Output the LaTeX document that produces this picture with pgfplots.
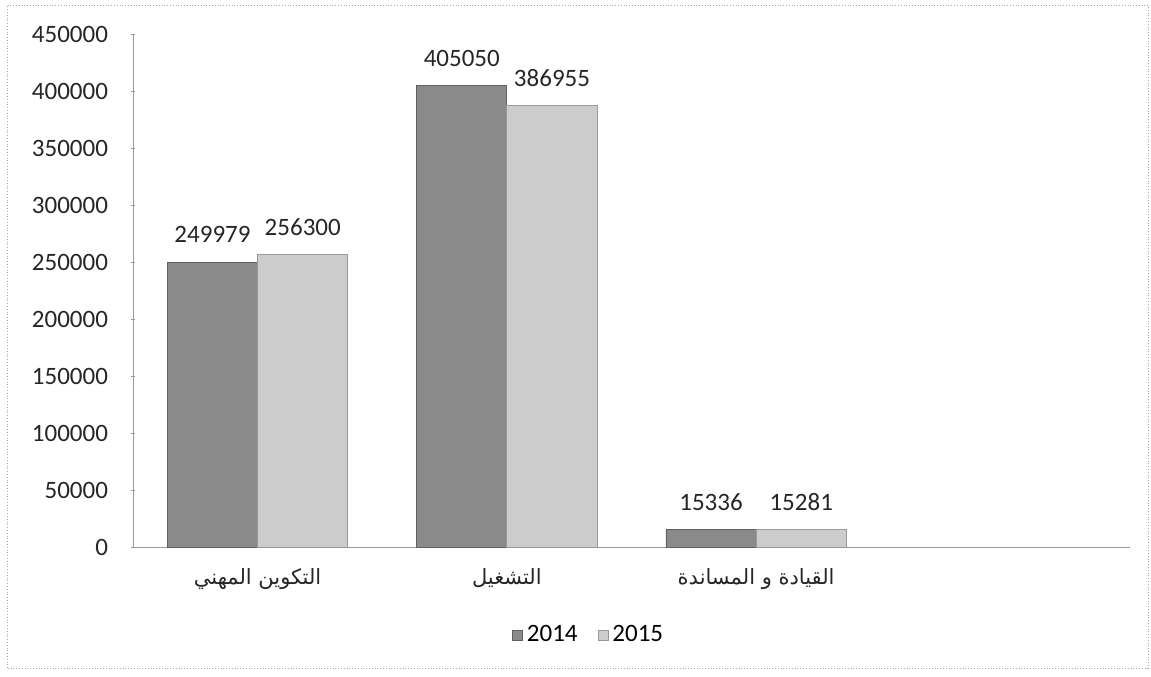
\documentclass[border=0pt]{standalone}
\usepackage{fontspec}
\setmainfont{Carlito}
\newfontfamily\arabicfont[Script=Arabic]{DejaVu Sans}
\usepackage{pgfplots}
\pgfplotsset{compat=1.18}
\TeXXeTstate=1
\definecolor{darkbar}{HTML}{8A8A8A}
\definecolor{lightbar}{HTML}{CCCCCC}
\definecolor{axgray}{HTML}{9A9A9A}
\begin{document}
\begin{tikzpicture}
\useasboundingbox (0,0) rectangle (575.5pt,338pt);
\draw[densely dotted, gray!70] (3.5pt,4pt) rectangle (574pt,335.5pt);
\begin{axis}[
  at={(66.5pt,64.5pt)}, anchor=south west,
  scale only axis, width=498.5pt, height=256.5pt,
  xmin=0, xmax=4, ymin=0, ymax=450000,
  axis x line=bottom, axis y line=left,
  axis line style={axgray, -},
  ytick={0,50000,...,450000},
  scaled y ticks=false,
  yticklabel style={/pgf/number format/fixed, /pgf/number format/1000 sep={}, font=\fontsize{12.5}{14}\selectfont, text=black!85, xshift=-8pt},
  /pgf/number format/assume math mode=true,
  major tick length=2pt, ytick style={axgray},
  xtick={0.5,1.5,2.5},
  xticklabels={{\arabicfont\beginR التكوين المهني\endR},{\arabicfont\beginR التشغيل\endR},{\arabicfont\beginR القيادة و المساندة\endR}},
  xticklabel style={font=\fontsize{10.5}{12}\selectfont, text=black!85, yshift=-5pt},
  xtick style={draw=none},
  ybar=0pt, bar width=0.362,
  nodes near coords,
  nodes near coords style={font=\fontsize{12.5}{14}\selectfont, text=black!85, /pgf/number format/fixed, /pgf/number format/1000 sep={}, yshift=6pt},
  legend style={at={(0.458,-0.172)}, anchor=center, draw=none, legend columns=2, font=\fontsize{12.5}{14}\selectfont, /tikz/every even column/.append style={column sep=8pt}},
  legend image code/.code={\fill[#1] (2pt,-2.5pt) rectangle (7pt,2.5pt);},
]
\addplot[fill=darkbar, draw=darkbar!70!black] coordinates {(0.5,249979) (1.5,405050) (2.5,15336)};
\addplot[fill=lightbar, draw=lightbar!75!black] coordinates {(0.5,256300) (1.5,386955) (2.5,15281)};
\legend{2014,2015}
\end{axis}
\end{tikzpicture}
\end{document}
